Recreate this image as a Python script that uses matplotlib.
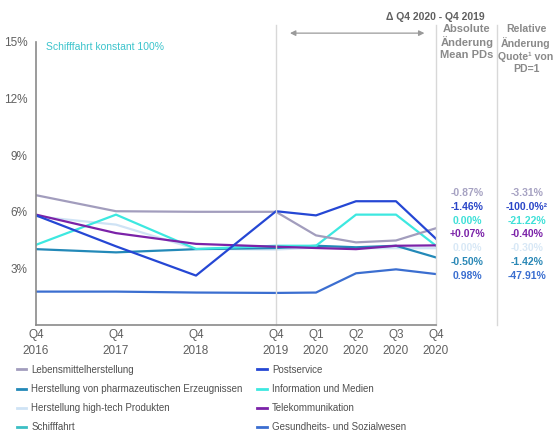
import numpy as np
import matplotlib
matplotlib.use("Agg")
import matplotlib.pyplot as plt
from matplotlib.lines import Line2D

plt.rcParams['font.family'] = ['Liberation Sans', 'DejaVu Sans']

# x positions: yearly Q4 points then quarters of 2020
x_pos = [0, 2, 4, 6, 7, 8, 9, 10]
x_labels = ['Q4\n2016', 'Q4\n2017', 'Q4\n2018', 'Q4\n2019',
            'Q1\n2020', 'Q2\n2020', 'Q3\n2020', 'Q4\n2020']

lebensmittel = [6.88, 6.03, 6.0, 6.0, 4.75, 4.38, 4.48, 5.13]
pharma = [4.02, 3.85, 4.02, 4.08, 4.2, 4.12, 4.2, 3.58]
hightech = [5.76, 5.32, 4.03, 4.0, 4.1, 4.07, 4.07, 4.07]
postservice = [5.81, 4.17, 2.62, 6.03, 5.81, 6.56, 6.56, 4.57]
info_medien = [4.25, 5.85, 4.03, 4.2, 4.2, 5.85, 5.85, 4.2]
telekom = [5.85, 4.87, 4.3, 4.15, 4.08, 4.02, 4.2, 4.22]
gesundheit = [1.77, 1.77, 1.72, 1.7, 1.72, 2.74, 2.95, 2.70]

abs_change = ['-0.87%', '-1.46%', '0.00%', '+0.07%', '0.00%', '-0.50%', '0.98%']
rel_change = ['-3.31%', '-100.0%²', '-21.22%', '-0.40%', '-0.30%', '-1.42%', '-47.91%']
change_colors = ['#a6a2c2', '#2a46c8', '#3fe0d8', '#7b22a8', '#d8e8f6', '#2a88b6', '#3a6ed0']

c_leb = '#a29dbd'
c_pharma = '#2389b8'
c_ht = '#cfe3f5'
c_schiff = '#3bbfc4'
c_post = '#2547d4'
c_info = '#3de8e0'
c_tel = '#7b22a8'
c_ges = '#3b6ed0'

fig = plt.figure(figsize=(5.53, 4.32), dpi=100)
ax = fig.add_axes([36 / 553, 1 - 325 / 432, 400 / 553, 283 / 432])

lw = 1.6
ax.plot(x_pos, gesundheit, color=c_ges, lw=lw)
ax.plot(x_pos, hightech, color=c_ht, lw=lw)
ax.plot(x_pos, pharma, color=c_pharma, lw=lw)
ax.plot(x_pos, info_medien, color=c_info, lw=lw)
ax.plot(x_pos, telekom, color=c_tel, lw=lw)
ax.plot(x_pos, lebensmittel, color=c_leb, lw=lw)
ax.plot(x_pos, postservice, color=c_post, lw=lw)

ax.set_xlim(0, 10)
ax.set_ylim(0, 15)
ax.set_xticks(x_pos)
ax.set_xticklabels(x_labels, linespacing=1.45)
ax.set_yticks([3, 6, 9, 12, 15])
ax.set_yticklabels(['3%', '6%', '9%', '12%', '15%'])
ax.tick_params(length=0, labelsize=8.5, colors='#606060')
ax.tick_params(axis='x', pad=3)
ax.tick_params(axis='y', pad=6)
for s in ['top', 'right']:
    ax.spines[s].set_visible(False)
for s in ['left', 'bottom']:
    ax.spines[s].set_color('#8a8a8a')
    ax.spines[s].set_linewidth(1.2)

# dividers
top = (325 - 25) / 283
ax.axvline(6, ymin=0, ymax=top, color='#d8d8d8', lw=1, clip_on=False)
ax.axvline(10, ymin=0, ymax=top, color='#d8d8d8', lw=1, clip_on=False)
ax.axvline(11.52, ymin=0, ymax=top, color='#d8d8d8', lw=1, clip_on=False)

ax.annotate('', xy=(6.28, 15.47), xytext=(9.78, 15.47), annotation_clip=False,
            arrowprops=dict(arrowstyle='<|-|>', color='#9a9a9a', lw=0.9,
                            mutation_scale=8))

ax.text(0.25, 14.6, 'Schifffahrt konstant 100%', color='#3cc4cc', fontsize=7.5)

fig.text(435 / 553, 1 - 17 / 432, 'Δ Q4 2020 - Q4 2019', ha='center', va='center',
         fontsize=7.5, color='#606060', fontweight='bold')
fig.text(467 / 553, 1 - 42 / 432, 'Absolute\nÄnderung\nMean PDs', ha='center',
         va='center', fontsize=8, color='#8a8a8a', fontweight='bold', linespacing=1.25)
fig.text(526 / 553, 1 - 49 / 432, 'Relative\nÄnderung\nQuote¹ von\nPD=1', ha='center',
         va='center', fontsize=7.6, color='#8a8a8a', fontweight='bold', linespacing=1.3)

for i, (a, r, c) in enumerate(zip(abs_change, rel_change, change_colors)):
    y = 1 - (193 + i * 13.8) / 432
    fig.text(467 / 553, y, a, ha='center', va='center', fontsize=7.5,
             color=c, fontweight='bold')
    fig.text(527 / 553, y, r, ha='center', va='center', fontsize=7.5,
             color=c, fontweight='bold')

handles = [Line2D([], [], color=c_leb, lw=2),
           Line2D([], [], color=c_pharma, lw=2),
           Line2D([], [], color=c_ht, lw=2),
           Line2D([], [], color=c_schiff, lw=2),
           Line2D([], [], color=c_post, lw=2),
           Line2D([], [], color=c_info, lw=2),
           Line2D([], [], color=c_tel, lw=2),
           Line2D([], [], color=c_ges, lw=2)]
labels = ['Lebensmittelherstellung',
          'Herstellung von pharmazeutischen Erzeugnissen',
          'Herstellung high-tech Produkten',
          'Schifffahrt',
          'Postservice',
          'Information und Medien',
          'Telekommunikation',
          'Gesundheits- und Sozialwesen']
leg = fig.legend(handles, labels, ncol=2, loc='upper left',
                 bbox_to_anchor=(8 / 553, 1 - 356 / 432), frameon=False,
                 fontsize=7, handlelength=1.0, handletextpad=0.5,
                 columnspacing=1.5, labelspacing=0.95)
for t in leg.get_texts():
    t.set_color('#505050')

fig.savefig('out.png', dpi=100)
